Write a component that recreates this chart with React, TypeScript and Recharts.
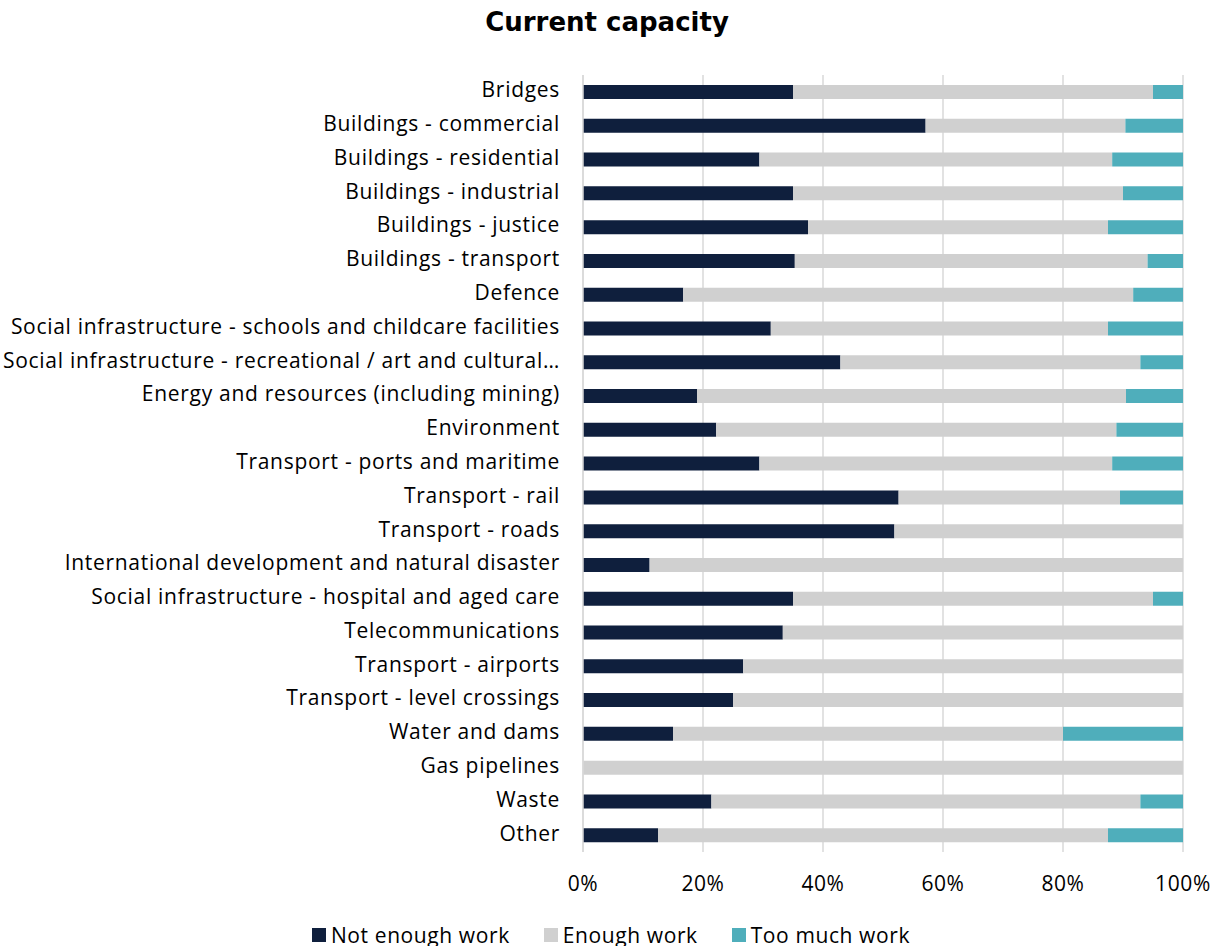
import React from 'react';
import { BarChart, Bar, XAxis, YAxis, CartesianGrid, Legend } from 'recharts';

const categories = [
  'Bridges',
  'Buildings - commercial',
  'Buildings - residential',
  'Buildings - industrial',
  'Buildings - justice',
  'Buildings - transport',
  'Defence',
  'Social infrastructure - schools and childcare facilities',
  'Social infrastructure - recreational / art and cultural…',
  'Energy and resources (including mining)',
  'Environment',
  'Transport - ports and maritime',
  'Transport - rail',
  'Transport - roads',
  'International development and natural disaster',
  'Social infrastructure - hospital and aged care',
  'Telecommunications',
  'Transport - airports',
  'Transport - level crossings',
  'Water and dams',
  'Gas pipelines',
  'Waste',
  'Other',
];

const notEnoughWork = [35, 57.1, 29.4, 35, 37.5, 35.3, 16.7, 31.3, 42.9, 19.0, 22.2, 29.4, 52.6, 51.9, 11.1, 35, 33.3, 26.7, 25, 15, 0, 21.4, 12.5];
const enoughWork = [60, 33.3, 58.8, 55, 50, 58.8, 75, 56.2, 50, 71.5, 66.7, 58.8, 36.9, 48.1, 88.9, 60, 66.7, 73.3, 75, 65, 100, 71.5, 75];
const tooMuchWork = [5, 9.6, 11.8, 10, 12.5, 5.9, 8.3, 12.5, 7.1, 9.5, 11.1, 11.8, 10.5, 0, 0, 5, 0, 0, 0, 20, 0, 7.1, 12.5];

const xTicks = [0, 20, 40, 60, 80, 100];

const seriesNames = ['Not enough work', 'Enough work', 'Too much work'];
const seriesColors = ['#0F1F3D', '#D0D0D0', '#4FAEBB'];

const data = categories.map((name, i) => ({
  name,
  a: notEnoughWork[i],
  b: enoughWork[i],
  c: tooMuchWork[i],
}));

const FONT = '"Open Sans", sans-serif';

const LegendContent = () => (
  <div style={{ display: 'flex', justifyContent: 'center', alignItems: 'center', fontFamily: FONT, fontSize: 21, letterSpacing: 0.6, color: '#000', paddingLeft: 0, lineHeight: '24px' }}>
    {seriesNames.map((n, i) => (
      <div key={n} style={{ display: 'flex', alignItems: 'center', marginRight: i < 2 ? 34 : 0 }}>
        <div style={{ width: 14, height: 14, background: seriesColors[i], marginRight: 5 }} />
        <span>{n}</span>
      </div>
    ))}
  </div>
);

export default function App() {
  return (
    <div style={{ position: 'absolute', left: 0, top: 0, width: 1222, height: 946, background: '#fff', overflow: 'hidden' }}>
      <div style={{ position: 'absolute', top: 7, left: 0, width: 1214, textAlign: 'center', fontFamily: '"DejaVu Sans", sans-serif', fontWeight: 'bold', fontSize: 26, color: '#000' }}>
        Current capacity
      </div>
      <BarChart
        width={1222}
        height={946}
        data={data}
        layout="vertical"
        margin={{ top: 75, right: 39, bottom: 34, left: 0 }}
        barSize={14}
      >
        <CartesianGrid horizontal={false} stroke="#D9D9D9" strokeWidth={1.5} />
        <XAxis
          type="number"
          domain={[0, 100]}
          ticks={xTicks}
          tickFormatter={(v) => `${v}%`}
          height={60}
          tickSize={0}
          tickMargin={24}
          axisLine={false}
          tickLine={false}
          tick={{ fill: '#000', fontSize: 21, fontFamily: FONT, letterSpacing: 0.6 }}
          interval={0}
        />
        <XAxis
          xAxisId="top"
          orientation="top"
          type="number"
          domain={[0, 100]}
          height={0}
          tick={false}
          tickLine={false}
          axisLine={{ stroke: '#D9D9D9', strokeWidth: 1.5 }}
        />
        <YAxis
          type="category"
          dataKey="name"
          width={583}
          tickSize={0}
          tickMargin={23}
          tickLine={false}
          axisLine={{ stroke: '#D9D9D9', strokeWidth: 1.5 }}
          interval={0}
          tick={{ fill: '#000', fontSize: 21, fontFamily: FONT, letterSpacing: 0.7, dy: -2 }}
        />
        <Legend
          layout="horizontal"
          verticalAlign="middle"
          align="center"
          wrapperStyle={{ top: 923, left: 0, width: 1222 }}
          content={<LegendContent />}
        />
        <Bar dataKey="a" name={seriesNames[0]} stackId="s" fill={seriesColors[0]} isAnimationActive={false} />
        <Bar dataKey="b" name={seriesNames[1]} stackId="s" fill={seriesColors[1]} isAnimationActive={false} />
        <Bar dataKey="c" name={seriesNames[2]} stackId="s" fill={seriesColors[2]} isAnimationActive={false} />
      </BarChart>
    </div>
  );
}
